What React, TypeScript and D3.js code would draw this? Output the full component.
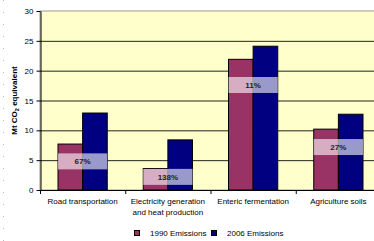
import React, { useRef, useEffect } from 'react'
import { select, scaleBand, scaleLinear, axisLeft, range } from 'd3'

const categories = [
    ['Road transportation'],
    ['Electricity generation', 'and heat production'],
    ['Enteric fermentation'],
    ['Agriculture soils'],
]
const series = ['1990 Emissions', '2006 Emissions']
const emissions1990 = [7.7, 3.6, 21.9, 10.2]
const emissions2006 = [12.9, 8.4, 24.1, 12.7]
const growthLabels = ['67%', '138%', '11%', '27%']
const growthLabelAt = [4.8, 2.2, 17.6, 7.2]
const yTicks = [0, 5, 10, 15, 20, 25, 30]
const colors = ['#993366', '#000080']

const W = 374
const H = 241

const App = () => {
    const ref = useRef<any>()

    useEffect(() => {
        const svg = select(ref.current)
        svg.selectAll('*').remove()
        const font = 'Liberation Sans, Arial, sans-serif'

        const x = scaleBand().domain(range(categories.length) as any).range([40, 381])
        const y = scaleLinear().domain([0, 30]).range([190, 11])
        const inner = scaleBand().domain(series).range([18, x.bandwidth() - 18])

        // plot background
        svg.append('rect')
            .attr('x', 40).attr('y', y(30))
            .attr('width', 341).attr('height', y(0) - y(30))
            .attr('fill', '#ffffcc')
            .attr('stroke', '#999').attr('stroke-width', 1)

        // gridlines
        svg.selectAll('.grid')
            .data(yTicks.filter(t => t > 0 && t < 30))
            .join('line')
            .attr('x1', 40).attr('x2', 381)
            .attr('y1', d => y(d) + 0.5).attr('y2', d => y(d) + 0.5)
            .attr('stroke', '#222').attr('stroke-width', 1)

        // bars
        const values = [emissions1990, emissions2006]
        series.forEach((s, si) => {
            svg.selectAll('.bar' + si)
                .data(values[si])
                .join('rect')
                .attr('x', (d, i) => (x(i as any) as number) + (inner(s) as number))
                .attr('y', d => y(d))
                .attr('width', inner.bandwidth())
                .attr('height', d => y(0) - y(d))
                .attr('fill', colors[si])
                .attr('stroke', '#000').attr('stroke-width', 1)
        })

        // growth boxes
        const g0 = inner(series[0]) as number
        const gw = inner.bandwidth() * 2
        growthLabels.forEach((lab, i) => {
            const cx = (x(i as any) as number) + x.bandwidth() / 2
            svg.append('rect')
                .attr('x', (x(i as any) as number) + g0)
                .attr('y', y(growthLabelAt[i]) - 8)
                .attr('width', gw).attr('height', 16)
                .attr('fill', '#fff').attr('fill-opacity', 0.6)
            svg.append('text')
                .attr('x', cx).attr('y', y(growthLabelAt[i]) + 3)
                .attr('text-anchor', 'middle')
                .attr('font-family', font).attr('font-size', 8).attr('font-weight', 'bold')
                .attr('fill', '#222')
                .text(lab)
        })

        // y axis
        const ya = svg.append('g').attr('transform', 'translate(40.5,0)')
            .call(axisLeft(y).tickValues(yTicks).tickSize(4).tickSizeOuter(0))
        ya.select('.domain').attr('stroke', '#000')
        ya.selectAll('text').attr('font-family', font).attr('font-size', 8).attr('fill', '#000')

        // x axis
        svg.append('line')
            .attr('x1', 40).attr('x2', 381)
            .attr('y1', y(0) + 0.5).attr('y2', y(0) + 0.5)
            .attr('stroke', '#000')
        svg.selectAll('.xtick')
            .data(range(categories.length + 1))
            .join('line')
            .attr('x1', i => 40 + i * x.step() + 0.5).attr('x2', i => 40 + i * x.step() + 0.5)
            .attr('y1', y(0)).attr('y2', y(0) + 4)
            .attr('stroke', '#000')

        categories.forEach((lines, i) => {
            const cx = (x(i as any) as number) + x.bandwidth() / 2
            lines.forEach((t, li) => {
                svg.append('text')
                    .attr('x', cx).attr('y', 204 + li * 11)
                    .attr('text-anchor', 'middle')
                    .attr('font-family', font).attr('font-size', 8).attr('fill', '#000')
                    .text(t)
            })
        })

        // y title
        const yt = svg.append('text')
            .attr('transform', `translate(17,${y(15)}) rotate(-90)`)
            .attr('text-anchor', 'middle')
            .attr('font-family', font).attr('font-size', 8).attr('font-weight', 'bold')
        yt.append('tspan').text('Mt CO')
        yt.append('tspan').attr('font-size', 5.5).attr('dy', 2).text('2')
        yt.append('tspan').attr('dy', -2).text(' equivalent')

        // dotted left edge
        svg.append('line')
            .attr('x1', 3.5).attr('x2', 3.5).attr('y1', 0).attr('y2', H)
            .attr('stroke', '#bbb').attr('stroke-dasharray', '1,11')

        // legend
        const legendX = [134, 211]
        series.forEach((s, si) => {
            svg.append('rect')
                .attr('x', legendX[si] + 0.5).attr('y', 230.5)
                .attr('width', 5).attr('height', 5)
                .attr('fill', colors[si]).attr('stroke', '#000')
            svg.append('text')
                .attr('x', legendX[si] + 16).attr('y', 236)
                .attr('font-family', font).attr('font-size', 8).attr('fill', '#000')
                .text(s)
        })
    }, [])

    return (
        <svg ref={ref} width={W} height={H}
            style={{ position: 'absolute', left: 0, top: 0, background: '#fff' }} />
    )
}

export default App
